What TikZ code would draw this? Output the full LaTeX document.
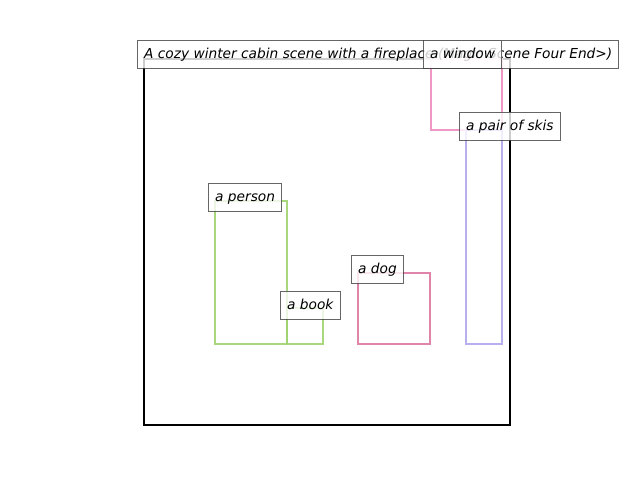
\documentclass[tikz,border=0pt]{standalone}
\usepackage{fontspec}
\setmainfont{DejaVu Sans}
\begin{document}
\begin{tikzpicture}[x=0.75pt,y=-0.75pt,
  frame/.style={draw=black,line width=1.7pt},
  region/.style={line width=2pt,draw opacity=0.9},
  tag/.style={draw=black!75,line width=0.75pt,fill=white,fill opacity=0.8,text opacity=1,draw opacity=0.8,
    font=\fontsize{10.3}{12}\selectfont\itshape,anchor=west,inner xsep=5pt,inner ysep=0pt,
    text height=7.6pt,text depth=1pt,minimum height=21pt}]
\definecolor{persongreen}{HTML}{9FD370}
\definecolor{windowpink}{HTML}{F08CBF}
\definecolor{dogpink}{HTML}{DD77A0}
\definecolor{skiviolet}{HTML}{B0A6F0}
\useasboundingbox (0,0) rectangle (640,480);
% scene frame
\draw[frame] (144,59) rectangle (510,425);
% object regions
\draw[region,draw=windowpink] (431,59) rectangle (502,130);
\draw[region,draw=skiviolet] (466,130) rectangle (502,344);
\draw[region,draw=persongreen] (215,201) rectangle (287,344);
\draw[region,draw=persongreen] (287,308) rectangle (323,344);
\draw[region,draw=dogpink] (358,273) rectangle (430,344);
% labels
\node[tag] (title) at (137,54) {A cozy winter cabin scene with a fireplace (Magic Scene Four End>)};
\node[tag] (person) at (208,197) {a person};
\node[tag] (book) at (280,305) {a book};
\node[tag] (dog) at (351,269) {a dog};
\node[tag] (skis) at (459,126) {a pair of skis};
\node[tag] (window) at (423,54) {a window};
\end{tikzpicture}
\end{document}
